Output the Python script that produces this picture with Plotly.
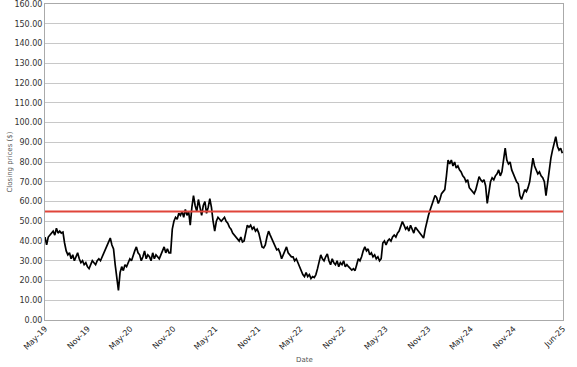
import pandas as pd
import plotly.graph_objects as go

# Weekly closing prices
closing_prices = [
    42, 38, 42, 43, 44, 45, 43, 46.5, 44, 45, 44, 44.5,
    39, 35,
    33, 34, 31, 33, 30, 32, 34, 31, 29, 30, 28, 29, 27,
    26, 28, 30, 29, 28, 30, 31, 30, 32,
    34, 36, 38, 40, 41.5,
    38, 36,
    28, 20, 15,
    24, 27, 25, 28, 27,
    29, 31, 30, 33, 35, 37,
    34, 33, 30, 32, 35, 31, 33, 32, 30, 34, 31, 33, 32, 31,
    33, 35, 37, 34, 36, 34,
    34,
    46, 50,
    52, 51, 54, 53, 55, 52,
    56, 53, 55,
    48, 57, 63,
    58, 55, 61, 56, 53, 58, 60, 54, 57, 61.5,
    57, 50, 45,
    50, 52, 51, 50, 51, 52, 50,
    49, 47, 46, 44, 43, 42,
    41, 40, 42, 39.5, 40,
    45, 48,
    47, 48, 46, 47, 45, 46, 44,
    40, 37, 36.5,
    38, 42, 45,
    43, 41, 39, 37, 35.5, 36,
    34, 31, 33,
    35, 37, 34, 33, 32,
    32, 30, 31, 29,
    27, 25, 23, 22,
    24, 22, 23, 21, 22, 21.5,
    23, 26, 29, 33, 31,
    30, 32, 33.5, 30, 28, 31,
    29, 28, 30, 27, 29, 28, 30, 27, 28,
    27, 26, 25.3, 26, 25,
    28, 31, 30, 32,
    35, 37,
    35, 36, 33, 34, 32, 33, 31, 32, 30, 31,
    39, 40,
    38, 40, 41, 40, 42, 43, 42, 44, 45,
    47, 49.8, 48,
    46, 47, 45, 48, 46, 44, 47, 46, 45, 44, 43,
    41.5,
    46, 50, 53, 55.7, 58,
    61, 63, 62,
    59, 61,
    64, 65, 66,
    73, 81,
    79, 81, 78, 80, 77, 78,
    76, 75, 73, 72, 70, 71,
    67, 66, 65, 64, 66,
    70, 72.6, 71,
    70, 71, 68,
    59, 64,
    70, 72, 71, 73,
    74, 76, 73, 75,
    80, 87,
    81, 79, 80,
    76, 74, 72, 70, 69,
    63, 61,
    64, 66, 65, 67,
    70, 75, 82,
    78, 76, 74, 75, 73, 72,
    70, 63,
    70, 76, 82, 86,
    90, 92.8,
    88, 86, 87, 84.5,
]

first_date = "2019-05-01"
last_date = "2025-05-29"
dates = pd.date_range(first_date, last_date, periods=len(closing_prices))

threshold = 55

tick_dates = [
    "2019-05-01", "2019-11-01", "2020-05-01", "2020-11-01", "2021-05-01",
    "2021-11-01", "2022-05-01", "2022-11-01", "2023-05-01", "2023-11-01",
    "2024-05-01", "2024-11-01", "2025-06-01",
]
tick_labels = [
    "May-19", "Nov-19", "May-20", "Nov-20", "May-21", "Nov-21", "May-22",
    "Nov-22", "May-23", "Nov-23", "May-24", "Nov-24", "Jun-25",
]

fig = go.Figure()
fig.add_trace(go.Scatter(
    x=dates, y=closing_prices, mode="lines",
    line=dict(color="black", width=1.7), showlegend=False,
))
fig.add_shape(
    type="line", xref="paper", x0=0, x1=1, yref="y", y0=threshold, y1=threshold,
    line=dict(color="#e0453a", width=2),
)

fig.add_annotation(
    text="Date", xref="paper", yref="paper", x=0.5, y=-0.145,
    showarrow=False, font=dict(size=7, color="#555555"),
)
fig.add_annotation(
    text="Closing prices ($)", xref="paper", yref="paper", x=-0.08, y=0.5,
    textangle=-90, showarrow=False, font=dict(size=7, color="#555555"),
)

fig.update_layout(
    width=577, height=367,
    margin=dict(l=45, r=14, t=4, b=47, autoexpand=False),
    paper_bgcolor="white", plot_bgcolor="white",
    font=dict(family="DejaVu Sans", size=8, color="#333333"),
    showlegend=False,
)
fig.update_xaxes(
    type="date", range=[tick_dates[0], tick_dates[-1]],
    tickmode="array", tickvals=tick_dates, ticktext=tick_labels,
    tickangle=-45, showgrid=False, showline=True, linecolor="#aaaaaa",
    linewidth=1, mirror=True, ticks="", tickfont=dict(size=8, color="#222222"),
    automargin=False, zeroline=False, ticklabeloverflow="allow",
)
fig.update_yaxes(
    range=[0, 160], dtick=10, tick0=0, tickformat=".2f",
    showgrid=True, gridcolor="#c8c8c8", gridwidth=1,
    showline=True, linecolor="#aaaaaa", linewidth=1, mirror=True,
    ticks="", tickfont=dict(size=8, color="#333333"),
    automargin=False, zeroline=False, ticklabeloverflow="allow",
)

fig.write_html(
    "out.html",
    config={"displayModeBar": False},
    post_script="document.body.style.margin='0';document.body.style.overflow='hidden';",
)
